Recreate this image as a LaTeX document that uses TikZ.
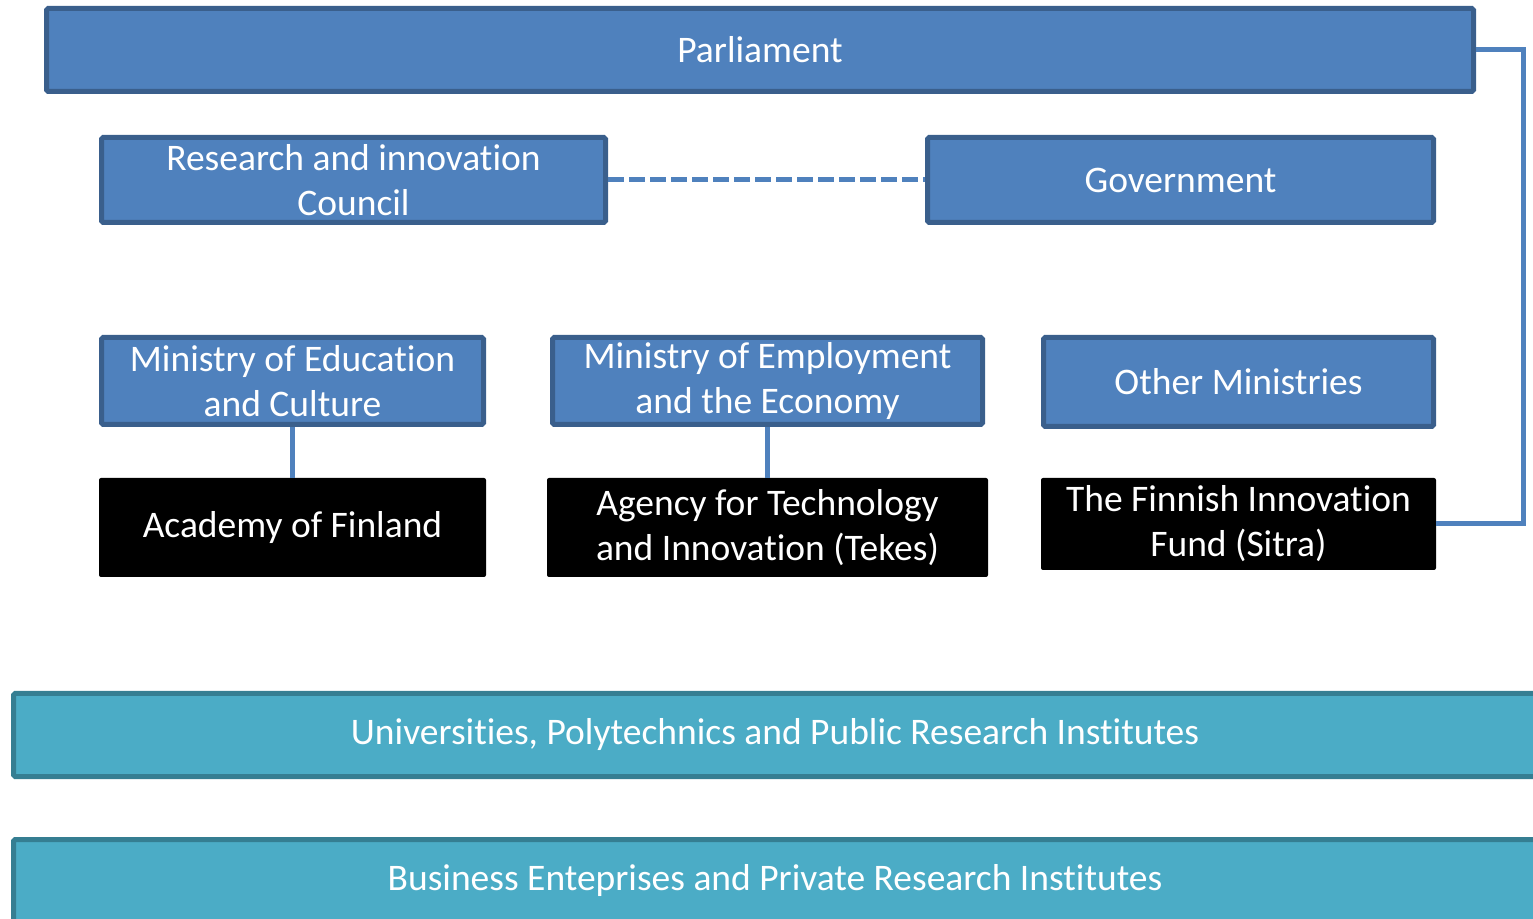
\documentclass[tikz,border=0pt]{standalone}
\usepackage{fontspec}
\setmainfont{Carlito}[Ligatures=NoCommon]
\usepackage{tikz}
\usetikzlibrary{calc}

\definecolor{boxfill}{HTML}{4F81BD}
\definecolor{boxedge}{HTML}{3A5F8C}
\definecolor{tealfill}{HTML}{4BACC6}
\definecolor{tealedge}{HTML}{357E92}

\tikzset{
  bluebox/.style={draw=boxedge, fill=boxfill, line width=2.5pt, text=white, align=center,
    inner sep=0pt, rounded corners=0.8pt, font=\fontsize{18.75}{22.5}\selectfont},
  blackbox/.style={fill=black, text=white, align=center, inner sep=0pt,
    rounded corners=1pt, font=\fontsize{18.75}{22.5}\selectfont},
  tealbox/.style={draw=tealedge, fill=tealfill, line width=2.5pt, text=white, align=center,
    inner sep=0pt, rounded corners=0.8pt, font=\fontsize{18.75}{22.5}\selectfont},
  link/.style={draw=boxfill, line width=2.5pt}
}

\begin{document}
\begin{tikzpicture}[x=0.5pt, y=-0.5pt]
% Page size as in the reference
\useasboundingbox (0,0) rectangle (1533,919);
\clip (0,0) rectangle (1533,919);

% Top level
\node[bluebox, minimum width=713.5pt, minimum height=41.5pt] (parl) at (760,50) {Parliament};
\node[bluebox, minimum width=252pt, minimum height=42.5pt] (council) at (353.5,180) {Research and innovation\\Council};
\node[bluebox, minimum width=253pt, minimum height=42.5pt] (gov) at (1180.5,180) {Government};

% Ministries
\node[bluebox, minimum width=191pt, minimum height=43.5pt] (edu) at (292.5,381) {Ministry of Education\\and Culture};
\node[bluebox, minimum width=215pt, minimum height=43.5pt] (econ) at (767.5,381) {Ministry of Employment\\and the Economy};
\node[bluebox, minimum width=195pt, minimum height=44.5pt] (other) at (1238.5,382) {Other Ministries};

% Agencies
\node[blackbox, minimum width=193.5pt, minimum height=49.5pt] (acad) at (292.5,527.5) {Academy of Finland};
\node[blackbox, minimum width=220.5pt, minimum height=49.5pt] (tekes) at (767.5,527.5) {Agency for Technology\\and Innovation (Tekes)};
\node[blackbox, minimum width=197.5pt, minimum height=46pt] (sitra) at (1238.5,524) {The Finnish Innovation\\Fund (Sitra)};

% Performers
\node[tealbox, minimum width=761.5pt, minimum height=41.5pt] (univ) at (775,735) {Universities, Polytechnics and Public Research Institutes};
\node[tealbox, minimum width=761.5pt, minimum height=41.5pt] (business) at (775,881) {Business Enteprises and Private Research Institutes};

% Connectors
\draw[link, dash pattern=on 8pt off 2.5pt] (council.east) -- (gov.west);
\draw[link] (edu.south) -- (acad.north);
\draw[link] (econ.south) -- (tekes.north);
\draw[link] (parl.east) -- ++(23.5pt,0) coordinate (bend) |- (sitra.east);

\end{tikzpicture}
\end{document}
